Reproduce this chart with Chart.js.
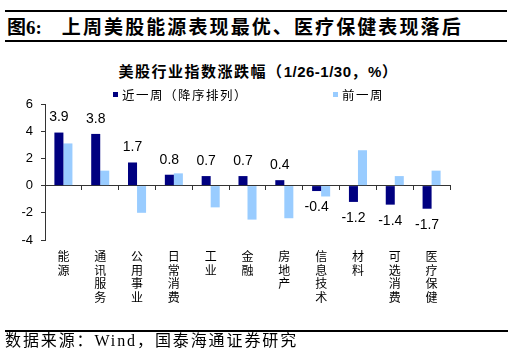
<!DOCTYPE html>
<html>
<head>
<meta charset="utf-8">
<script src="https://cdn.jsdelivr.net/npm/chart.js@4.4.0/dist/chart.umd.min.js"></script>
<style>
  html, body { margin: 0; padding: 0; background: #fff; }
  body { width: 513px; height: 356px; position: relative; overflow: hidden; }
  #c { position: absolute; left: 0; top: 0; }
  .rule { position: absolute; left: 5px; width: 502px; background: #000; }
  #header { position: absolute; left: 7px; top: 14px; font-family: "Liberation Serif", "Noto Sans CJK SC", sans-serif; font-weight: bold; font-size: 19px; line-height: 24px; white-space: nowrap; color: #000; }
  #header .t { font-family: "Noto Sans CJK SC", sans-serif; letter-spacing: 2.1px; margin-left: 20px; }
  #header .fig { font-family: "Noto Sans CJK SC", sans-serif; }
  #ctitle { position: absolute; left: 0; width: 517px; top: 61px; text-align: center; font-family: "Noto Sans CJK SC", sans-serif; font-weight: bold; font-size: 15px; line-height: 20px; white-space: nowrap; color: #000; letter-spacing: 1.5px; }
  #ctitle .n { font-family: "Liberation Sans", Arial, sans-serif; letter-spacing: 0.5px; }
  #footer { position: absolute; left: 5px; top: 330px; font-family: "Liberation Serif", "Noto Sans CJK SC", serif; font-size: 16px; line-height: 22px; white-space: nowrap; color: #000; letter-spacing: 1.9px; }
</style>
</head>
<body>
<div class="rule" style="top:10px;height:2px;"></div>
<div id="header"><span class="fig">图</span>6:<span class="t">上周美股能源表现最优、医疗保健表现落后</span></div>
<div class="rule" style="top:40px;height:2px;"></div>
<div id="ctitle">美股行业指数涨跌幅（<span class="n">1/26-1/30</span>，<span class="n">%</span>）</div>
<canvas id="c" width="513" height="356"></canvas>
<div class="rule" style="top:330px;height:2px;width:503px;"></div>
<div id="footer">数据来源：Wind，国泰海通证券研究</div>
<script>
// ---- data ----
const categories = ['能源', '通讯服务', '公用事业', '日常消费', '工业', '金融', '房地产', '信息技术', '材料', '可选消费', '医疗保健'];
const seriesNames = ['近一周（降序排列）', '前一周'];
const lastWeek = [3.9, 3.8, 1.7, 0.8, 0.7, 0.7, 0.4, -0.4, -1.2, -1.4, -1.7];
const prevWeek = [3.1, 1.1, -2.0, 0.9, -1.6, -2.5, -2.4, -0.8, 2.6, 0.7, 1.1];
const yTicks = [-4, -2, 0, 2, 4, 6];

const colors = ['#000080', '#99CCFF'];
const verticalLabels = categories.map(s => s.split(''));

const valueLabelPlugin = {
  id: 'valueLabels',
  afterDatasetsDraw(chart) {
    const ctx = chart.ctx;
    const meta = chart.getDatasetMeta(0);
    ctx.save();
    ctx.font = '14px "Liberation Sans", Arial, sans-serif';
    ctx.fillStyle = '#000';
    ctx.textAlign = 'center';
    ctx.textBaseline = 'middle';
    meta.data.forEach((bar, i) => {
      const v = lastWeek[i];
      const y = v >= 0 ? bar.y - 15 : bar.y + 16.5;
      ctx.fillText(v.toFixed(1), bar.x, y);
    });
    ctx.restore();
  }
};

const legendPlugin = {
  id: 'customLegend',
  afterDraw(chart) {
    const ctx = chart.ctx;
    const items = [{x: 113, label: seriesNames[0], color: colors[0]}, {x: 333, label: seriesNames[1], color: colors[1]}];
    ctx.save();
    ctx.font = '12.5px "Noto Sans CJK SC", sans-serif';
    ctx.textBaseline = 'middle';
    ctx.textAlign = 'left';
    items.forEach(it => {
      ctx.fillStyle = it.color;
      ctx.fillRect(it.x, 92, 5, 5);
      ctx.fillStyle = '#000';
      if (ctx.letterSpacing !== undefined) ctx.letterSpacing = '1.5px';
      ctx.fillText(it.label, it.x + 9, 95);
    });
    ctx.restore();
  }
};

new Chart(document.getElementById('c'), {
  type: 'bar',
  data: {
    labels: categories,
    datasets: [
      { label: seriesNames[0], data: lastWeek, backgroundColor: colors[0], xAxisID: 'x', yAxisID: 'y', categoryPercentage: 0.49, barPercentage: 1.0 },
      { label: seriesNames[1], data: prevWeek, backgroundColor: colors[1], xAxisID: 'x', yAxisID: 'y', categoryPercentage: 0.49, barPercentage: 1.0 }
    ]
  },
  options: {
    responsive: false,
    animation: false,
    devicePixelRatio: 1,
    layout: { padding: { left: 5, right: 63, top: 104, bottom: 36 } },
    plugins: { legend: { display: false }, title: { display: false }, tooltip: { enabled: false } },
    scales: {
      x: {
        type: 'category',
        position: { y: 0 },
        offset: true,
        grid: { display: true, offset: true, drawOnChartArea: false, drawTicks: true, tickLength: 4, color: '#333' },
        border: { display: true, color: '#333', width: 1 },
        ticks: { display: false }
      },
      xl: {
        type: 'category',
        position: 'bottom',
        labels: verticalLabels,
        offset: true,
        grid: { display: false, drawTicks: false },
        border: { display: false },
        ticks: { autoSkip: false, maxRotation: 0, minRotation: 0, padding: 10, color: '#000', font: { family: '"Noto Sans CJK SC", sans-serif', size: 12, lineHeight: 1.13 } },
        afterFit(scale) { scale.height = 80; }
      },
      y: {
        type: 'linear',
        min: -4,
        max: 6,
        afterBuildTicks(scale) { scale.ticks = yTicks.map(v => ({ value: v })); },
        grid: { display: true, drawOnChartArea: false, drawTicks: true, tickLength: 4, color: '#333' },
        border: { display: true, color: '#333', width: 1 },
        ticks: { padding: 8, color: '#000', font: { family: '"Liberation Sans", Arial, sans-serif', size: 13 } },
        afterFit(scale) { scale.width = 40; }
      }
    }
  },
  plugins: [valueLabelPlugin, legendPlugin]
});
</script>
</body>
</html>
